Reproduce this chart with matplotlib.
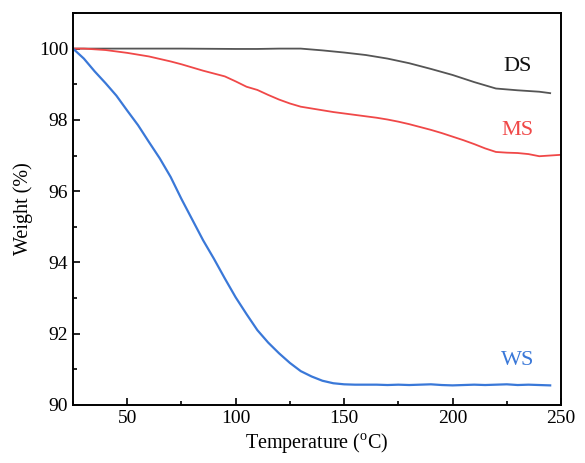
import matplotlib
matplotlib.use("Agg")
import matplotlib.pyplot as plt
from matplotlib.ticker import MultipleLocator

plt.rcParams['font.family'] = ['Liberation Serif', 'DejaVu Serif']
plt.rcParams['mathtext.fontset'] = 'custom'
plt.rcParams['mathtext.rm'] = 'Liberation Serif'

# Data
ws_t = list(range(25, 250, 5))
ws_w = [100.0, 99.72, 99.36, 99.03, 98.68, 98.26, 97.85, 97.38, 96.92, 96.40,
        95.78, 95.20, 94.62, 94.10, 93.55, 93.02, 92.55, 92.10, 91.75, 91.45,
        91.18, 90.95, 90.80, 90.68, 90.61, 90.58, 90.57, 90.57, 90.57, 90.56,
        90.57, 90.56, 90.57, 90.58, 90.56, 90.55, 90.56, 90.57, 90.56, 90.57,
        90.58, 90.56, 90.57, 90.56, 90.55]

ms_t = list(range(25, 255, 5))
ms_w = [100.0, 100.0, 99.98, 99.96, 99.92, 99.88, 99.83, 99.78, 99.71, 99.64,
        99.56, 99.47, 99.38, 99.30, 99.22, 99.08, 98.93, 98.84, 98.70, 98.57,
        98.46, 98.37, 98.32, 98.27, 98.22, 98.18, 98.14, 98.10, 98.06, 98.01,
        97.95, 97.88, 97.80, 97.72, 97.63, 97.53, 97.43, 97.32, 97.20, 97.10,
        97.08, 97.07, 97.04, 96.98, 97.00, 97.02]

ds_t = [25, 50, 75, 100, 110, 120, 130, 140, 150, 160, 170, 180, 190, 200,
        210, 220, 230, 240, 245]
ds_w = [100.0, 100.0, 100.0, 99.99, 99.99, 100.0, 100.0, 99.95, 99.89, 99.82,
        99.72, 99.59, 99.43, 99.26, 99.06, 98.88, 98.83, 98.79, 98.75]

labels = ['DS', 'MS', 'WS']
label_y = [99.51, 97.69, 91.26]
colors = ['#555555', '#f04848', '#3a78d8']
text_colors = ['#111111', '#f04848', '#3a78d8']

fig = plt.figure(figsize=(5.85, 4.63), dpi=100)
ax = fig.add_axes([0.1248, 0.1253, 0.8342, 0.8467])

ax.plot(ds_t, ds_w, color=colors[0], lw=1.3)
ax.plot(ms_t, ms_w, color=colors[1], lw=1.3)
ax.plot(ws_t, ws_w, color=colors[2], lw=1.6)

for lab, y, c in zip(labels, label_y, text_colors):
    ax.text(230, y, lab, color=c, fontsize=16, ha='center', va='center')

ax.set_xlim(25, 250)
ax.set_ylim(90, 101)
ax.xaxis.set_major_locator(MultipleLocator(50))
ax.xaxis.set_minor_locator(MultipleLocator(25))
ax.yaxis.set_major_locator(MultipleLocator(2))
ax.yaxis.set_minor_locator(MultipleLocator(1))
ax.tick_params(which='both', direction='in', labelsize=14, width=1.2)
ax.tick_params(which='major', length=5)
ax.tick_params(which='minor', length=3)
for s in ax.spines.values():
    s.set_linewidth(1.4)

ax.set_xlabel('Temperature ($^{\\rm o}$C)', fontsize=14.5, labelpad=3)
ax.set_ylabel('Weight (%)', fontsize=14.5, labelpad=4)

fig.savefig('out.png', dpi=100)
